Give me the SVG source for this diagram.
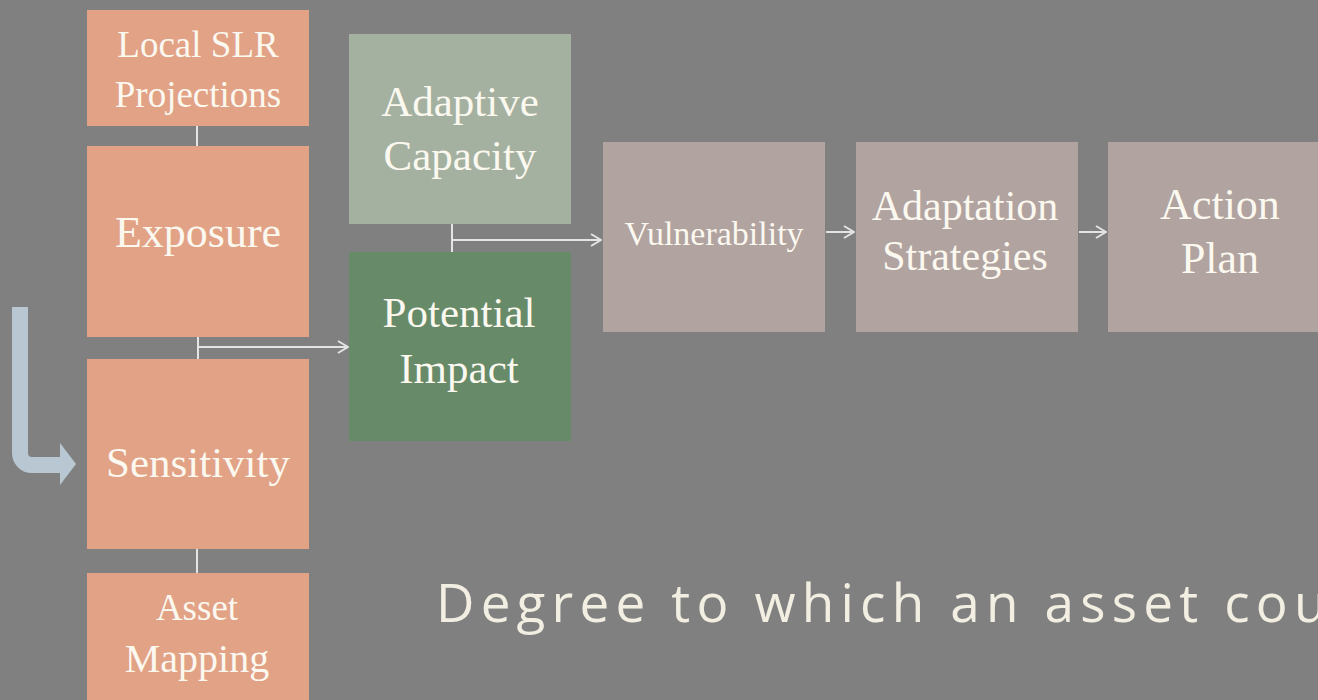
<svg xmlns="http://www.w3.org/2000/svg" width="1318" height="700" viewBox="0 0 1318 700">
<defs>
<style>
.bg{fill:#808080}
.salmon{fill:#e2a286}
.ac{fill:#a5b1a0}
.pi{fill:#678a68}
.mauve{fill:#b1a39f}
.lbl{font-family:"Liberation Serif","DejaVu Serif",serif;fill:#fbf8f0;text-anchor:middle}
.conn{stroke:#e4e4e4;stroke-width:2;fill:none}
.cap{font-family:"Open Sans","Lato",sans-serif;fill:#f2efe2;font-size:53px;letter-spacing:6.2px}
</style>
<marker id="chev" viewBox="0 0 12 14" refX="11" refY="7" markerWidth="12" markerHeight="14" markerUnits="userSpaceOnUse" orient="auto">
<path d="M1,1 L11,7 L1,13" fill="none" stroke="#e4e4e4" stroke-width="2"/>
</marker>
</defs>
<rect class="bg" x="0" y="0" width="1318" height="700"/>

<g id="blue-arrow">
<path d="M20,307 V453 A12,12 0 0 0 32,465 H61" fill="none" stroke="#b8c7d1" stroke-width="16"/>
<polygon points="60,443 76,464 60,485" fill="#b8c7d1"/>
</g>

<g id="connectors">
<line class="conn" x1="197" y1="126" x2="197" y2="146"/>
<line class="conn" x1="198" y1="337" x2="198" y2="359"/>
<line class="conn" x1="198" y1="347" x2="348" y2="347" marker-end="url(#chev)"/>
<line class="conn" x1="197" y1="549" x2="197" y2="573"/>
<line class="conn" x1="452" y1="224" x2="452" y2="252"/>
<line class="conn" x1="452" y1="240" x2="601" y2="240" marker-end="url(#chev)"/>
<line class="conn" x1="826" y1="232" x2="854" y2="232" marker-end="url(#chev)"/>
<line class="conn" x1="1079" y1="232" x2="1106" y2="232" marker-end="url(#chev)"/>
</g>

<g id="local-slr">
<rect class="salmon" x="87" y="10" width="222" height="116"/>
<text class="lbl" x="198" y="57" font-size="37">Local SLR</text>
<text class="lbl" x="198" y="107" font-size="37">Projections</text>
</g>
<g id="exposure">
<rect class="salmon" x="87" y="146" width="222" height="191"/>
<text class="lbl" x="198" y="247" font-size="44">Exposure</text>
</g>
<g id="sensitivity">
<rect class="salmon" x="87" y="359" width="222" height="190"/>
<text class="lbl" x="198" y="477" font-size="43">Sensitivity</text>
</g>
<g id="asset-mapping">
<rect class="salmon" x="87" y="573" width="222" height="140"/>
<text class="lbl" x="197" y="620" font-size="37">Asset</text>
<text class="lbl" x="197" y="672" font-size="40">Mapping</text>
</g>
<g id="adaptive-capacity">
<rect class="ac" x="349" y="34" width="222" height="190"/>
<text class="lbl" x="460" y="116" font-size="43">Adaptive</text>
<text class="lbl" x="460" y="170" font-size="43">Capacity</text>
</g>
<g id="potential-impact">
<rect class="pi" x="349" y="252" width="222" height="189"/>
<text class="lbl" x="459" y="327" font-size="43">Potential</text>
<text class="lbl" x="459" y="383" font-size="43">Impact</text>
</g>
<g id="vulnerability">
<rect class="mauve" x="603" y="142" width="222" height="190"/>
<text class="lbl" x="714" y="245" font-size="34">Vulnerability</text>
</g>
<g id="adaptation-strategies">
<rect class="mauve" x="856" y="142" width="222" height="190"/>
<text class="lbl" x="965" y="220" font-size="42">Adaptation</text>
<text class="lbl" x="965" y="270" font-size="42">Strategies</text>
</g>
<g id="action-plan">
<rect class="mauve" x="1108" y="142" width="222" height="190"/>
<text class="lbl" x="1220" y="219" font-size="44">Action</text>
<text class="lbl" x="1220" y="273" font-size="44">Plan</text>
</g>

<text class="cap" x="436" y="622">Degree to which an asset cou</text>
</svg>
